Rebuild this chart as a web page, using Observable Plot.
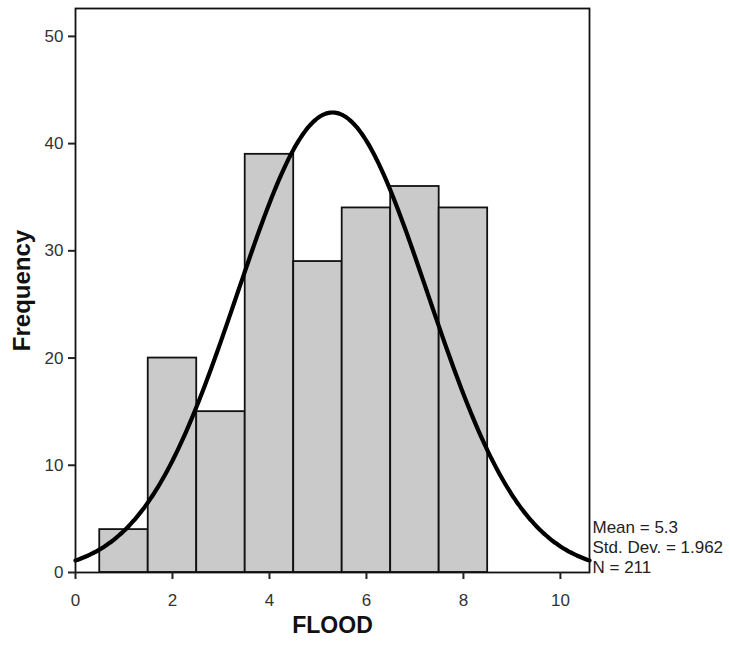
<!DOCTYPE html>
<html>
<head>
<meta charset="utf-8">
<script src="https://cdn.jsdelivr.net/npm/d3@7"></script>
<script src="https://cdn.jsdelivr.net/npm/@observablehq/plot@0.6"></script>
<style>
  html, body { margin: 0; padding: 0; background: #fff; }
  #chart { width: 730px; height: 645px; }
</style>
</head>
<body>
<div id="chart"></div>
<script>
// Histogram bins (FLOOD value centres) and frequencies
const floodValues = [1, 2, 3, 4, 5, 6, 7, 8];
const frequencies = [4, 20, 15, 39, 29, 34, 36, 34];
// Summary statistics printed on the chart
const statMean = 5.3;
const statSD = 1.962;
const statN = 211;
const binWidth = 1;
const xTicks = [0, 2, 4, 6, 8, 10];
const yTicks = [0, 10, 20, 30, 40, 50];

const bars = floodValues.map((v, i) => ({x1: v - binWidth / 2, x2: v + binWidth / 2, count: frequencies[i]}));

// Fitted normal curve from the printed mean, SD and N
const curve = d3.range(0, 10.601, 0.05).map(x => ({
  x,
  y: statN * binWidth / (statSD * Math.sqrt(2 * Math.PI)) * Math.exp(-0.5 * ((x - statMean) / statSD) ** 2)
}));

const statsText = `Mean = ${statMean}\nStd. Dev. = ${statSD}\nN = ${statN}`;

const chart = Plot.plot({
  width: 730,
  height: 645,
  marginLeft: 75,
  marginRight: 141,
  marginTop: 8,
  marginBottom: 73,
  style: {fontFamily: "'Liberation Sans', Arial, sans-serif", fontSize: "17px", color: "#000", background: "#fff"},
  x: {domain: [0, 10.6], ticks: xTicks, label: null},
  y: {domain: [0, 52.6], ticks: yTicks, label: null},
  marks: [
    Plot.rectY(bars, {x1: "x1", x2: "x2", y: "count", fill: "#cacaca", stroke: "#111", strokeWidth: 1.8}),
    Plot.line(curve, {x: "x", y: "y", stroke: "#000", strokeWidth: 4.2, curve: "basis"}),
    Plot.frame({stroke: "#111", strokeWidth: 1.8}),
    Plot.axisX({ticks: xTicks, tickSize: 7, tickPadding: 14, stroke: "#222", strokeWidth: 2, fill: "#333", fontSize: 17, label: null}),
    Plot.axisY({ticks: yTicks, tickSize: 7, tickPadding: 5, stroke: "#222", strokeWidth: 2, fill: "#333", fontSize: 17, label: null}),
    Plot.text([statsText], {x: 10.6, y: 0, textAnchor: "start", lineAnchor: "bottom", dx: 3, dy: 0, lineHeight: 1.15, fontSize: 17, fill: "#222"}),
    Plot.text(["Frequency"], {frameAnchor: "left", textAnchor: "middle", dx: -53, rotate: -90, fontSize: 24, fontWeight: "bold", fill: "#111"}),
    Plot.text(["FLOOD"], {frameAnchor: "bottom", textAnchor: "middle", dy: 60, fontSize: 23, fontWeight: "bold", fill: "#111"})
  ]
});

document.getElementById("chart").appendChild(chart);
</script>
</body>
</html>
